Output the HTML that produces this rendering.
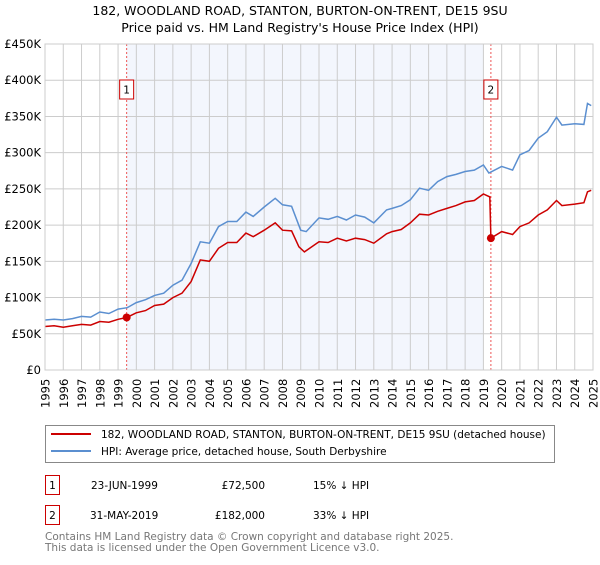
<!DOCTYPE html>
<html><head><meta charset="utf-8"><style>
body{margin:0;background:#fff;font-family:"Liberation Sans","DejaVu Sans",sans-serif;}
svg text{font-family:"DejaVu Sans","Liberation Sans",sans-serif;}
</style></head><body>
<svg id="c" width="600" height="560" xmlns="http://www.w3.org/2000/svg">
<text x="300" y="15" font-size="12.5" text-anchor="middle">182, WOODLAND ROAD, STANTON, BURTON-ON-TRENT, DE15 9SU</text>
<text x="300" y="32" font-size="12.5" text-anchor="middle">Price paid vs. HM Land Registry's House Price Index (HPI)</text>
<g id="plot"></g>
<g>
<rect x="45.5" y="425.5" width="509" height="37" fill="#fff" stroke="#888"/>
<line x1="51" y1="434" x2="91" y2="434" stroke="#cc0000" stroke-width="2"/>
<text x="101" y="438" font-size="10.5">182, WOODLAND ROAD, STANTON, BURTON-ON-TRENT, DE15 9SU (detached house)</text>
<line x1="51" y1="451" x2="91" y2="451" stroke="#5b8fd0" stroke-width="2"/>
<text x="101" y="455" font-size="10.5">HPI: Average price, detached house, South Derbyshire</text>
</g>
<g font-size="10.5">
<rect x="45.5" y="475.5" width="14" height="19" fill="#fff" stroke="#cc0000"/>
<text x="52.5" y="489" text-anchor="middle">1</text>
<text x="91" y="489">23-JUN-1999</text>
<text x="265" y="489" text-anchor="end">£72,500</text>
<text x="313" y="489">15% ↓ HPI</text>
<rect x="45.5" y="505.5" width="14" height="19" fill="#fff" stroke="#cc0000"/>
<text x="52.5" y="519" text-anchor="middle">2</text>
<text x="90" y="519">31-MAY-2019</text>
<text x="265" y="519" text-anchor="end">£182,000</text>
<text x="313" y="519">33% ↓ HPI</text>
</g>
<text x="45" y="540" font-size="10.5" fill="#777">Contains HM Land Registry data © Crown copyright and database right 2025.</text>
<text x="45" y="551" font-size="10.5" fill="#777">This data is licensed under the Open Government Licence v3.0.</text>
</svg>
<script>
const hpiYears=[1995,1995.5,1996,1996.5,1997,1997.5,1998,1998.5,1999,1999.5,2000,2000.5,2001,2001.5,2002,2002.5,2003,2003.5,2004,2004.5,2005,2005.5,2006,2006.4,2007,2007.6,2008,2008.5,2009,2009.3,2010,2010.5,2011,2011.5,2012,2012.5,2013,2013.7,2014,2014.5,2015,2015.5,2016,2016.5,2017,2017.5,2018,2018.5,2019,2019.3,2020,2020.6,2021,2021.5,2022,2022.5,2023,2023.3,2024,2024.5,2024.7,2024.9];
const hpiValues=[69,70,69,71,74,73,80,78,84,86,93,97,103,106,117,124,147,177,175,198,205,205,218,212,225,237,228,226,193,191,210,208,212,207,214,211,203,221,223,227,235,251,248,260,267,270,274,276,283,272,281,276,297,303,320,329,349,338,340,339,368,365];
const priceYears=[1995,1995.5,1996,1996.5,1997,1997.5,1998,1998.5,1999,1999.47,2000,2000.5,2001,2001.5,2002,2002.5,2003,2003.5,2004,2004.5,2005,2005.5,2006,2006.4,2007,2007.6,2008,2008.5,2008.9,2009.2,2010,2010.5,2011,2011.5,2012,2012.5,2013,2013.7,2014,2014.5,2015,2015.5,2016,2016.5,2017,2017.5,2018,2018.5,2019,2019.35,2019.41,2020,2020.6,2021,2021.5,2022,2022.5,2023,2023.3,2024,2024.5,2024.7,2024.9];
const priceValues=[60,61,59,61,63,62,67,66,70,72.5,79,82,89,91,100,106,122,152,150,168,176,176,189,184,193,203,193,192,170,163,177,176,182,178,182,180,175,188,191,194,203,215,214,219,223,227,232,234,243,239,182,191,187,198,203,214,221,234,227,229,231,246,248];
const sales=[{label:"1",year:1999.47,value:72.5},{label:"2",year:2019.41,value:182}];
const yTicks=[0,50,100,150,200,250,300,350,400,450];
const xTicks=[];for(let y=1995;y<=2025;y++)xTicks.push(y);
const X0=45,X1=593,Y0=370,Y1=44;
const xs=y=>X0+(y-1995)/30*(X1-X0);
const ys=v=>Y0-v/450*(Y0-Y1);
const NS="http://www.w3.org/2000/svg";
const g=document.getElementById('plot');
function mk(t,a){const e=document.createElementNS(NS,t);for(const k in a)e.setAttribute(k,a[k]);g.appendChild(e);return e;}
let e=mk('rect',{x:xs(sales[0].year),y:Y1,width:xs(2019)-xs(sales[0].year),height:Y0-Y1,fill:'#f3f6fd'});


xTicks.forEach(y=>{
 let l=mk('line',{x1:xs(y),x2:xs(y),y1:Y1,y2:Y0,stroke:'#cccccc'});
 
 
 let t=mk('text',{x:0,y:0,'font-size':'11.5',transform:`translate(${xs(y)+4.5},${Y0+38}) rotate(-90)`});
 t.textContent=y;
 
 
});
yTicks.forEach(v=>{
 let l=mk('line',{x1:X0,x2:X1,y1:ys(v),y2:ys(v),stroke:'#cccccc'});
 
 
 let t=mk('text',{x:X0-4,y:ys(v)+4,'font-size':'11.5','text-anchor':'end'});
 t.textContent=v===0?'£0':'£'+v+'K';
 
 
});
sales.forEach(s=>{
 let l=mk('line',{x1:xs(s.year),x2:xs(s.year),y1:Y1,y2:Y0,stroke:'#ee5555','stroke-dasharray':'2,2'});
 
 
});
function path(xa,va,col,name){
 const d=xa.map((y,i)=>(i?'L':'M')+xs(y).toFixed(1)+','+ys(va[i]).toFixed(1)).join('');
 const p=mk('path',{d:d,fill:'none',stroke:col,'stroke-width':1.5});
 
 
}
path(hpiYears,hpiValues,'#5b8fd0','hpi-line');
path(priceYears,priceValues,'#cc0000','price-paid-line');
sales.forEach(s=>{
 let c=mk('circle',{cx:xs(s.year),cy:ys(s.value),r:4,fill:'#cc0000'});
 
 
 let r=mk('rect',{x:xs(s.year)-7,y:80,width:14,height:19,fill:'#fff',stroke:'#cc0000'});
 
 
 let t=mk('text',{x:xs(s.year),y:93.5,'font-size':'10.5','text-anchor':'middle'});
 t.textContent=s.label;
 
 
});
e=mk('rect',{x:X0,y:Y1,width:X1-X0,height:Y0-Y1,fill:'none',stroke:'#cccccc'});


</script>
</body></html>
